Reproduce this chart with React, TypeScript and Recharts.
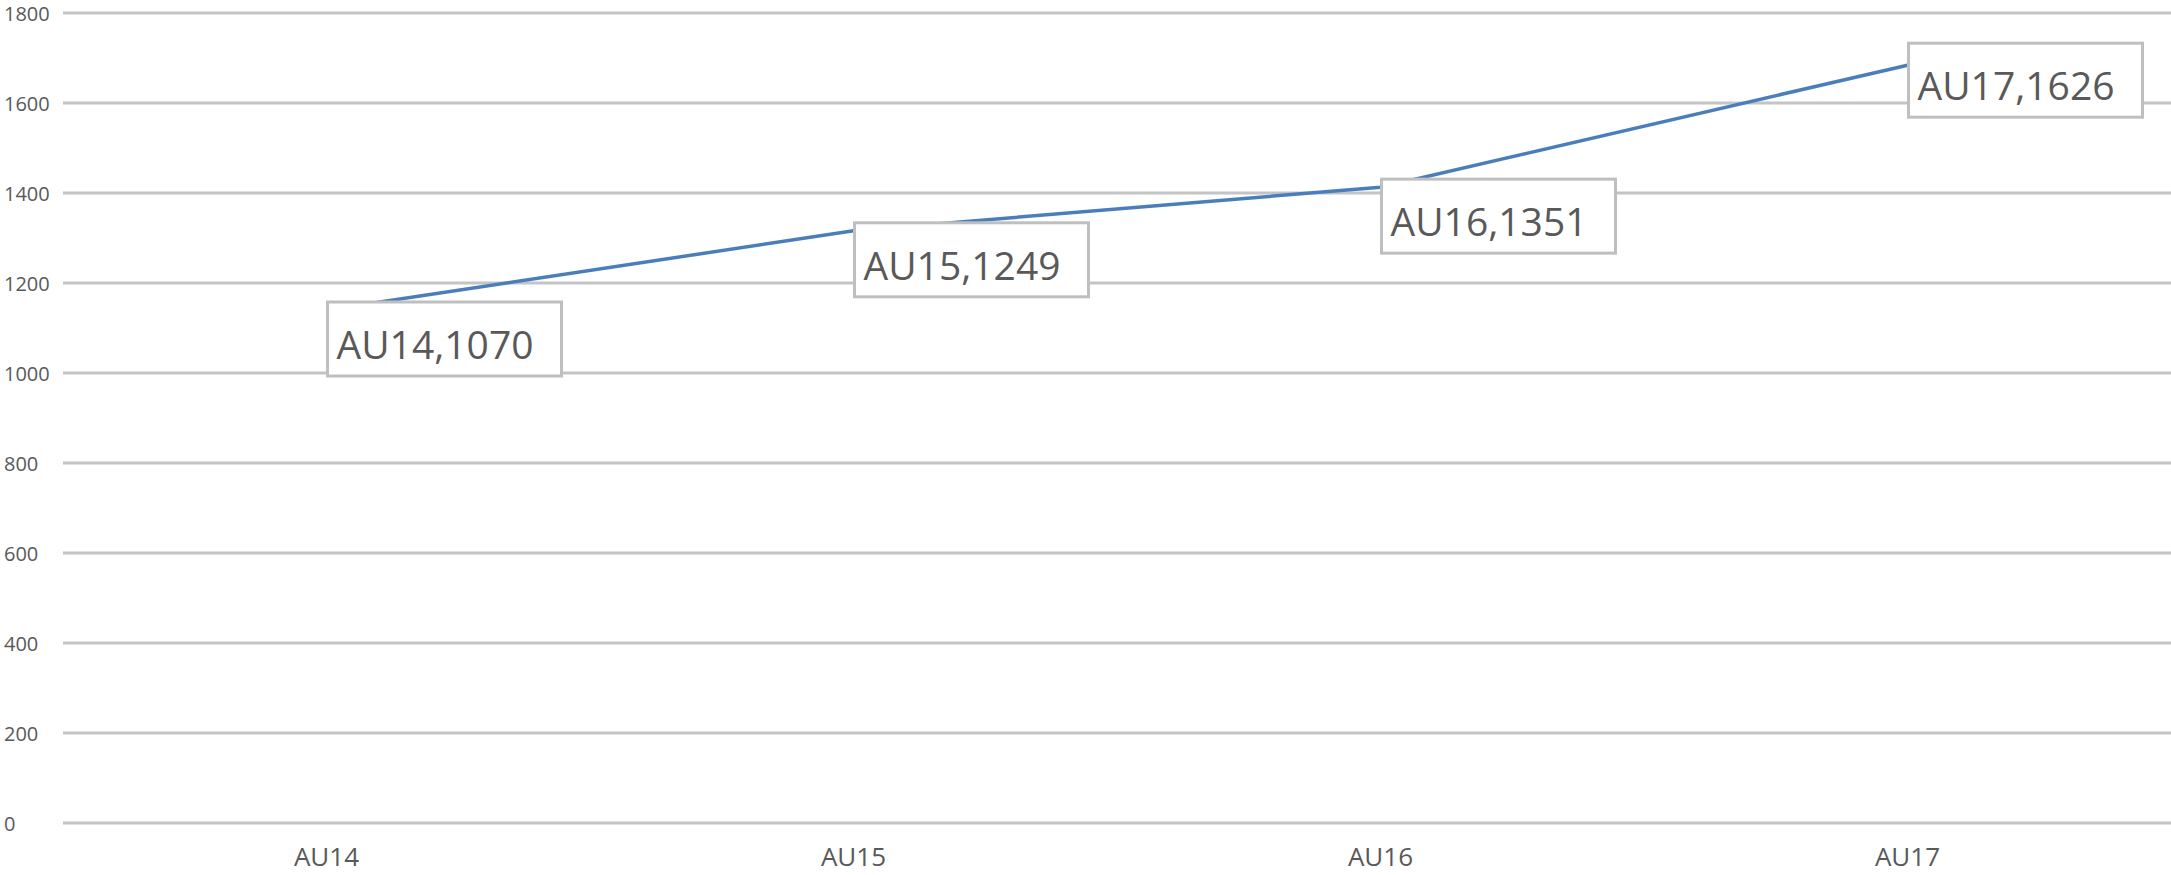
import { LineChart, Line, XAxis, YAxis, CartesianGrid, LabelList } from 'recharts'

// categories along the x axis
const categories = ['AU14', 'AU15', 'AU16', 'AU17']
const lineValues = [1140, 1316, 1413, 1684]
// numbers printed in the data labels
const labelValues = [1070, 1249, 1351, 1626]
const yTicks = [0, 200, 400, 600, 800, 1000, 1200, 1400, 1600, 1800]

const data = categories.map((name, i) => ({ name, value: lineValues[i] }))

const FONT = '"Open Sans", "Liberation Sans", sans-serif'
const TEXT = '#595959'

const YTick = (props: any) => {
  const { y, payload } = props
  return (
    <text x={4} y={y} dy="0.4em" textAnchor="start" fontFamily={FONT} fontSize={20} fill={TEXT}>
      {payload.value}
    </text>
  )
}

const XTick = (props: any) => {
  const { x, y, payload } = props
  return (
    <text x={x} y={y + 34} dy="0.35em" textAnchor="middle" fontFamily={FONT} fontSize={26} fill={TEXT}>
      {payload.value}
    </text>
  )
}

const DataLabel = (props: any) => {
  const x = props.x ?? props.viewBox?.x
  const y = props.y ?? props.viewBox?.y
  const index = props.index
  if (x == null || y == null || index == null) return null
  const left = x + 1
  // last label sits a bit higher in the original
  const top = index === categories.length - 1 ? y - 22 : y - 8
  return (
    <g>
      <rect x={left} y={top} width={234} height={74} fill="#ffffff" stroke="#bfbfbf" strokeWidth={3} />
      <text x={left + 9} y={top + 57} fontFamily={FONT} fontSize={39} fill={TEXT}>
        {`${categories[index]},${labelValues[index]}`}
      </text>
    </g>
  )
}

export default function App() {
  return (
    <div style={{ position: 'absolute', left: 0, top: 0, background: '#ffffff' }}>
      <LineChart width={2171} height={875} data={data} margin={{ top: 13, right: 0, left: 0, bottom: 0 }}>
        <CartesianGrid vertical={false} stroke="#c4c4c4" strokeWidth={3} />
        <XAxis
          dataKey="name"
          height={52}
          axisLine={false}
          tickLine={false}
          tickSize={0}
          tickMargin={0}
          padding={{ left: 263.5, right: 263.5 }}
          tick={<XTick />}
        />
        <YAxis
          width={63}
          domain={[0, 1800]}
          ticks={yTicks}
          axisLine={false}
          tickLine={false}
          tick={<YTick />}
          interval={0}
        />
        <Line
          type="linear"
          dataKey="value"
          stroke="#4a7ebb"
          strokeWidth={3.5}
          dot={false}
          activeDot={false}
          isAnimationActive={false}
        >
          <LabelList dataKey="value" content={<DataLabel />} />
        </Line>
      </LineChart>
    </div>
  )
}
